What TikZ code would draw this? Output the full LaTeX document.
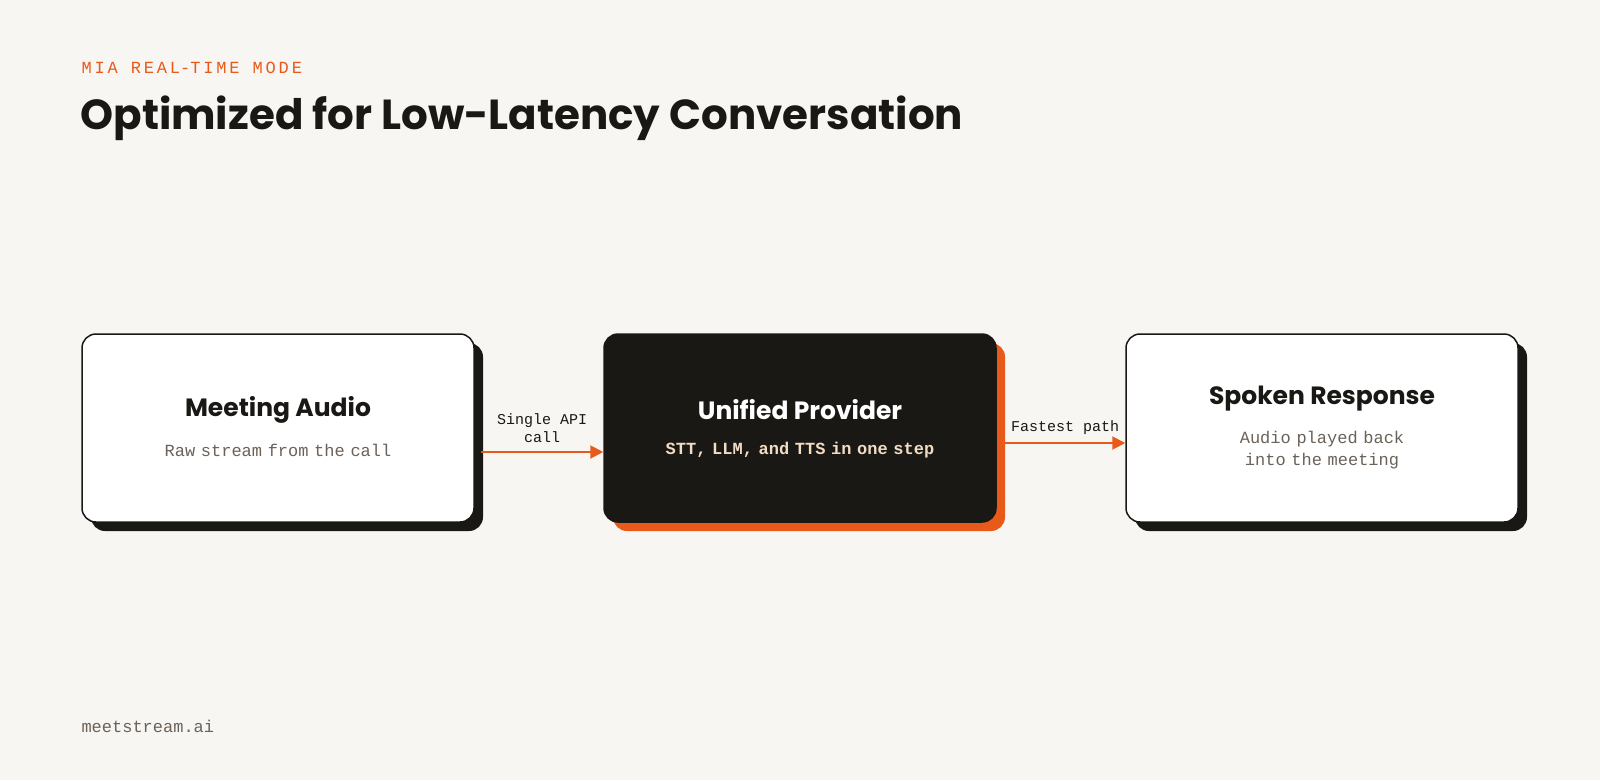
\documentclass[tikz,border=0pt]{standalone}
\usepackage{fontspec}
\setmainfont{Poppins}
\setmonofont{Liberation Mono}
\usetikzlibrary{arrows.meta, positioning}
\definecolor{bgc}{HTML}{F7F6F3}
\definecolor{ink}{HTML}{1A1814}
\definecolor{accent}{HTML}{E85A1A}
\definecolor{muted}{HTML}{6B6259}
\definecolor{warm}{HTML}{F2DCC4}
\tikzset{%
	card/.style={draw=ink, line width=1.5pt, rounded corners=14pt, fill=white,
		minimum width=392pt, minimum height=188pt},
	shade/.style={rounded corners=14pt, fill=ink, minimum width=392pt, minimum height=188pt},
	ttl/.style={font=\fontsize{25}{30}\selectfont\bfseries, text=ink},
	sub/.style={font=\ttfamily\fontsize{17}{22}\selectfont, text=muted, align=center, text width=275pt},
	flow/.style={draw=accent, line width=2pt, -{Triangle[length=13pt,width=13pt]}},
	lbl/.style={font=\ttfamily\fontsize{15}{18}\selectfont, text=ink, align=center}
}
\begin{document}
\begin{tikzpicture}[x=1pt, y=-1pt]
	\fill [bgc] (0,0) rectangle (1600,780);
	\useasboundingbox (0,0) rectangle (1600,780);
	%heading
	\node [anchor=west, text=accent, font=\ttfamily\fontsize{17}{20}\selectfont] (kick) at (78,68) {M\,I\,A\, R\,E\,A\,L-T\,I\,M\,E\, M\,O\,D\,E};
	\node [anchor=west, text=ink, font=\fontsize{42}{50}\selectfont\bfseries] (head) at (77,118) {Optimized for Low-Latency Conversation};
	%cards
	\node [shade] at (287,437) {};
	\node [card] (A) at (278,428) {};
	\node [shade, fill=accent] at (809,437) {};
	\node [card, fill=ink] (B) at (800,428) {};
	\node [shade] at (1331,437) {};
	\node [card] (C) at (1322,428) {};
	\node [ttl] at (278,410) {Meeting Audio};
	\node [sub] at (278,450) {Raw stream from the call};
	\node [ttl, text=white] at (800,410) {Unified Provider};
	\node [sub, text=warm, font=\ttfamily\bfseries\fontsize{17}{22}\selectfont] at (800,450) {STT, LLM, and TTS in one step};
	\node [ttl] at (1322,399) {Spoken Response};
	\node [sub] at (1322,450) {Audio played back into the meeting};
	%connectors
	\coordinate (a1) at (481,452);
	\coordinate (b1) at (1005,443);
	\draw [flow] (a1) -- (a1-|B.west) node[lbl, midway, above=5pt] {Single API\\call};
	\draw [flow] (b1) -- (b1-|C.west) node[lbl, midway, above=4pt] {Fastest path};
	%footer
	\node [anchor=west, text=muted, font=\ttfamily\fontsize{17}{20}\selectfont] (foot) at (78,726) {meetstream.ai};
\end{tikzpicture}
\end{document}
